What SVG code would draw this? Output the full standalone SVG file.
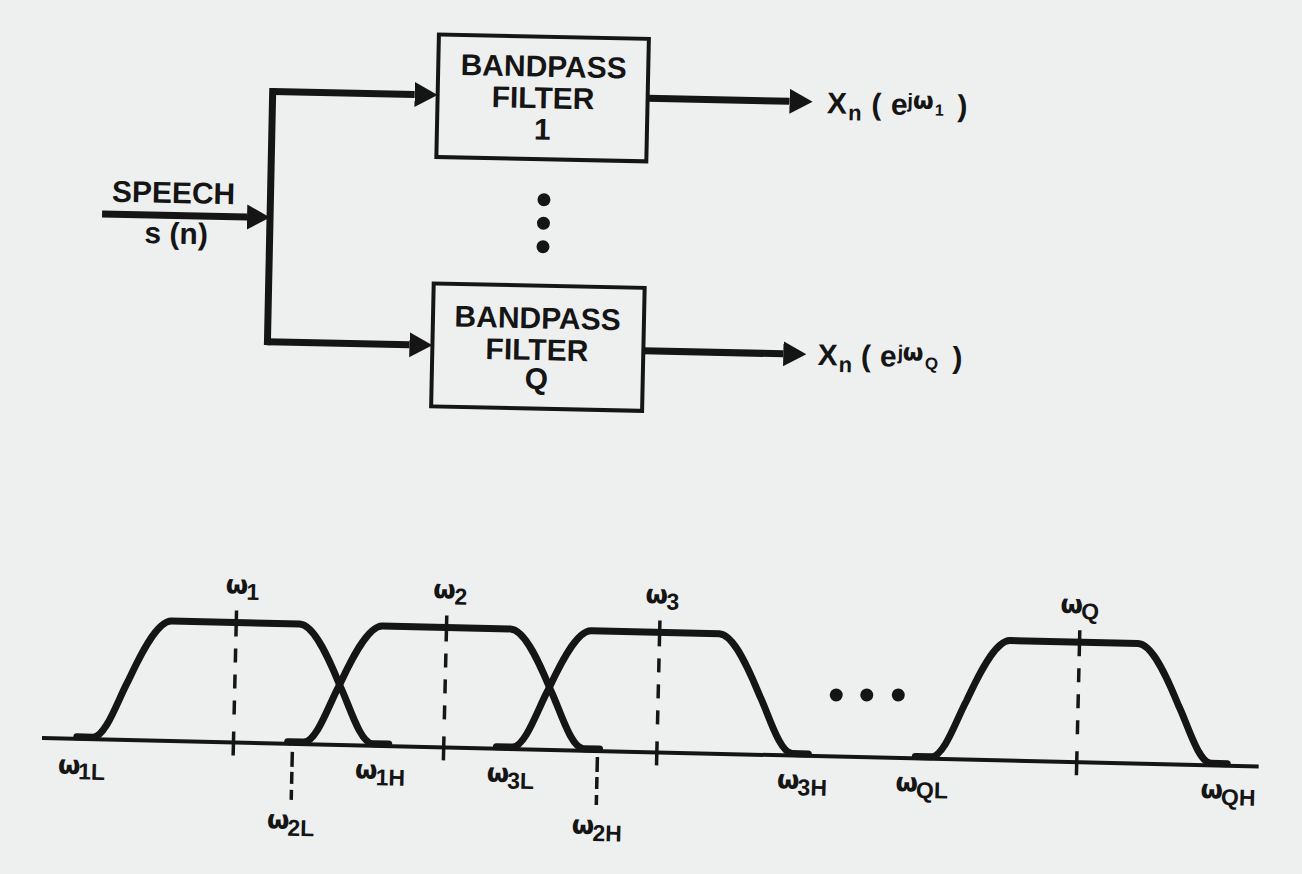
<svg xmlns="http://www.w3.org/2000/svg" width="1302" height="874" viewBox="0 0 1302 874">
<style>
.bg{fill:#eef0f0}
.t{font-family:"Liberation Sans",Arial,sans-serif;font-weight:bold;fill:#151515}
.big{font-size:30px}
.box{fill:none;stroke:#151515;stroke-width:4}
.wire{fill:none;stroke:#151515;stroke-width:7}
.axis{fill:none;stroke:#151515;stroke-width:4}
.resp{fill:none;stroke:#151515;stroke-width:7;stroke-linejoin:round;stroke-linecap:round}
.tick{stroke:#151515;stroke-width:3.5;stroke-dasharray:26 12 14 12 14 12 14 17 24 300}
.tick2{stroke:#151515;stroke-width:3.5;stroke-dasharray:15 5 12 6 12 300}
.dot{fill:#151515}
.w{font-family:"DejaVu Sans",sans-serif;font-size:26px}
.sub{font-family:"Liberation Sans",Arial,sans-serif;font-size:23px}
.sw{font-family:"DejaVu Sans",sans-serif;font-size:24px}
</style>
<defs>
<marker id="ah" viewBox="0 -13 23 26" refX="0" refY="0" markerWidth="23" markerHeight="26" markerUnits="userSpaceOnUse" orient="auto"><path d="M0,-12.5 L23,0 L0,12.5 Z" fill="#151515"/></marker>
<path id="band" d="M-156,736 H-140 C-127,736 -115,696 -106,679 C-98,661 -80,618 -64,618 H64 C80,618 98,661 106,679 C115,696 127,736 140,736 H156"/>
</defs>
<rect class="bg" x="0" y="0" width="1302" height="874"/>

<g id="block-diagram" transform="rotate(1.2 270 220)">
  <g id="connectors">
    <path class="wire" d="M102,217.5 H247" marker-end="url(#ah)"/>
    <path class="wire" d="M270,88 V345.2"/>
    <path class="wire" d="M270,91.5 H412" marker-end="url(#ah)"/>
    <path class="wire" d="M270,341.7 H412" marker-end="url(#ah)"/>
    <path class="wire" d="M645,90.4 H787" marker-end="url(#ah)"/>
    <path class="wire" d="M646,343 H786" marker-end="url(#ah)"/>
  </g>
  <g id="speech-input">
    <text class="t big" x="173" y="205" text-anchor="middle">SPEECH</text>
    <text class="t big" x="176.5" y="245.7" text-anchor="middle">s (n)</text>
  </g>
  <g id="filter-1">
    <rect class="box" x="435" y="31" width="210" height="122.5"/>
    <text class="t big" x="540.4" y="71" text-anchor="middle">BANDPASS</text>
    <text class="t big" x="540.4" y="102.5" text-anchor="middle">FILTER</text>
    <text class="t big" x="540.4" y="134" text-anchor="middle">1</text>
  </g>
  <g id="filter-Q">
    <rect class="box" x="435" y="280" width="211" height="123"/>
    <text class="t big" x="539.6" y="322.7" text-anchor="middle">BANDPASS</text>
    <text class="t big" x="539.6" y="354.4" text-anchor="middle">FILTER</text>
    <text class="t big" x="539.6" y="383.4" text-anchor="middle">Q</text>
  </g>
  <g id="filter-ellipsis">
    <circle class="dot" cx="543.5" cy="194" r="6.5"/>
    <circle class="dot" cx="543.5" cy="217.5" r="6.5"/>
    <circle class="dot" cx="543.5" cy="241" r="6.5"/>
  </g>
  <g id="output-1" transform="translate(824.3 101.6)">
    <text class="t"><tspan x="0" y="0" font-size="30">X</tspan><tspan x="21.5" y="6.5" font-size="22">n</tspan><tspan x="44.5" y="0" font-size="30">(</tspan><tspan x="64" y="0" font-size="30">e</tspan><tspan x="80.5" y="-7.5" font-size="20">j</tspan><tspan class="sw" x="86" y="-6.6">ω</tspan><tspan x="108" y="0" font-size="16">1</tspan><tspan x="130.5" y="0" font-size="30">)</tspan></text>
  </g>
  <g id="output-Q" transform="translate(820.3 353.5)">
    <text class="t"><tspan x="0" y="0" font-size="30">X</tspan><tspan x="21.3" y="6.5" font-size="22">n</tspan><tspan x="43.5" y="0" font-size="30">(</tspan><tspan x="62.5" y="0" font-size="30">e</tspan><tspan x="80" y="-7.5" font-size="20">j</tspan><tspan class="sw" x="85" y="-6.6">ω</tspan><tspan x="107.5" y="2" font-size="17">Q</tspan><tspan x="135" y="0" font-size="30">)</tspan></text>
  </g>
</g>

<g id="filter-bank-response" transform="rotate(1.34 42 738)">
  <path id="frequency-axis" class="axis" d="M42,738 H1259"/>
  <g id="band-1"><use href="#band" class="resp" x="232.8"/></g>
  <g id="band-2"><use href="#band" class="resp" x="443.7"/></g>
  <g id="band-3"><use href="#band" class="resp" x="652.5"/></g>
  <g id="band-Q"><use href="#band" class="resp" x="1071.5"/></g>
  <g id="center-ticks">
    <line class="tick" x1="233.5" y1="606" x2="233.5" y2="751"/>
    <line class="tick" x1="443.8" y1="606" x2="443.8" y2="751"/>
    <line class="tick" x1="657" y1="606" x2="657" y2="751"/>
    <line class="tick" x1="1077" y1="606" x2="1077" y2="751"/>
    <line class="tick2" x1="292.6" y1="746" x2="292.6" y2="794"/>
    <line class="tick2" x1="597.7" y1="744" x2="597.7" y2="792"/>
  </g>
  <g id="band-ellipsis">
    <circle class="dot" cx="835" cy="676.4" r="6.5"/>
    <circle class="dot" cx="865.5" cy="675.7" r="6.5"/>
    <circle class="dot" cx="897" cy="675" r="6.5"/>
  </g>
  <g id="freq-labels">
    <text class="t" x="222" y="589"><tspan class="w">ω</tspan><tspan class="sub" x="243" y="595">1</tspan></text>
    <text class="t" x="429.7" y="589"><tspan class="w">ω</tspan><tspan class="sub" x="451" y="595">2</tspan></text>
    <text class="t" x="642" y="589"><tspan class="w">ω</tspan><tspan class="sub" x="663" y="595">3</tspan></text>
    <text class="t" x="1057" y="589"><tspan class="w">ω</tspan><tspan class="sub" x="1078" y="595">Q</tspan></text>
    <text class="t" x="58.6" y="773"><tspan class="w">ω</tspan><tspan class="sub" x="79" y="778.5">1L</tspan></text>
    <text class="t" x="355.7" y="771"><tspan class="w">ω</tspan><tspan class="sub" x="376.5" y="777.5">1H</tspan></text>
    <text class="t" x="487.4" y="771"><tspan class="w">ω</tspan><tspan class="sub" x="508" y="777.5">3L</tspan></text>
    <text class="t" x="777.8" y="771"><tspan class="w">ω</tspan><tspan class="sub" x="798.5" y="777.5">3H</tspan></text>
    <text class="t" x="896.2" y="771"><tspan class="w">ω</tspan><tspan class="sub" x="917" y="777.5">QL</tspan></text>
    <text class="t" x="1201.4" y="771"><tspan class="w">ω</tspan><tspan class="sub" x="1222" y="777.5">QH</tspan></text>
    <text class="t" x="268.7" y="823"><tspan class="w">ω</tspan><tspan class="sub" x="289.5" y="830">2L</tspan></text>
    <text class="t" x="573.7" y="821"><tspan class="w">ω</tspan><tspan class="sub" x="594.5" y="828">2H</tspan></text>
  </g>
</g>
</svg>
